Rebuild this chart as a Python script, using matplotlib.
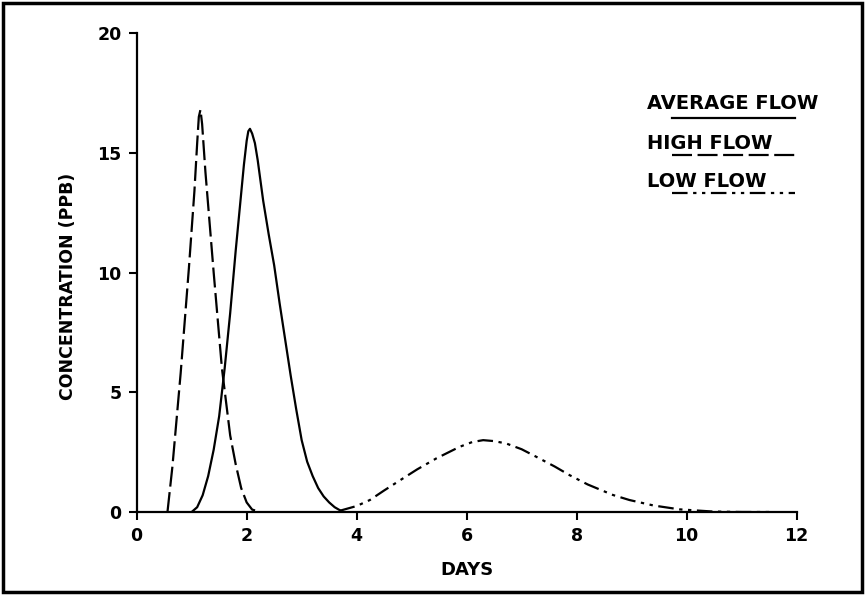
import matplotlib
matplotlib.use('Agg')
import matplotlib.pyplot as plt
from matplotlib.lines import Line2D
from matplotlib.patches import Rectangle

plt.rcParams['font.family'] = ['DejaVu Sans']
plt.rcParams['font.weight'] = 'bold'

# Values
avg_days = [1.0, 1.1, 1.2, 1.3, 1.4, 1.5, 1.6, 1.7, 1.8, 1.9, 1.95, 2.0, 2.03, 2.06, 2.1, 2.15,
            2.2, 2.3, 2.4, 2.5, 2.6, 2.7, 2.8, 2.9, 3.0, 3.1, 3.2, 3.3, 3.4, 3.5, 3.6, 3.75]
avg_conc = [0.0, 0.2, 0.7, 1.5, 2.6, 4.0, 6.0, 8.3, 10.9, 13.3, 14.5, 15.5, 15.9, 16.0, 15.8, 15.4,
            14.7, 13.0, 11.6, 10.3, 8.7, 7.2, 5.7, 4.3, 3.0, 2.1, 1.5, 1.0, 0.65, 0.4, 0.2, 0.0]

high_days = [0.56, 0.65, 0.8, 0.95, 1.05, 1.1, 1.13, 1.16, 1.19, 1.25, 1.4, 1.55, 1.7, 1.8,
             1.9, 2.0, 2.1, 2.25]
high_conc = [0.0, 1.9, 5.8, 10.2, 13.4, 15.4, 16.5, 16.8, 16.2, 14.2, 10.0, 6.0, 3.2, 2.0,
             1.0, 0.4, 0.1, 0.0]

low_days = [3.69, 4.0, 4.24, 4.5, 4.84, 5.1, 5.45, 5.87, 6.1, 6.3, 6.5, 6.72, 7.0, 7.27,
            7.6, 7.87, 8.2, 8.66, 8.96, 9.4, 9.87, 10.47, 11.0, 11.5]
low_conc = [0.05, 0.25, 0.5, 0.9, 1.4, 1.78, 2.24, 2.72, 2.92, 3.0, 2.96, 2.86, 2.62, 2.3,
            1.9, 1.54, 1.15, 0.71, 0.5, 0.27, 0.11, 0.02, 0.0, 0.0]

x_ticks = [0, 2, 4, 6, 8, 10, 12]
y_ticks = [0, 5, 10, 15, 20]

series_labels = ['AVERAGE FLOW', 'HIGH FLOW', 'LOW FLOW']
dash_high = (0, (9, 2.5))
dash_low = (0, (7, 2.5, 1.5, 2.5, 1.5, 2.5))
styles = ['-', dash_high, dash_low]

fig, ax = plt.subplots(figsize=(8.65, 5.95), dpi=100)
plt.subplots_adjust(left=0.158, right=0.921, bottom=0.1395, top=0.9445)

lw = 1.6
ax.plot(avg_days, avg_conc, color='black', lw=lw, linestyle=styles[0])
ax.plot(high_days, high_conc, color='black', lw=lw, linestyle=styles[1])
ax.plot(low_days, low_conc, color='black', lw=lw, linestyle=styles[2])

ax.set_xlim(0, 12)
ax.set_ylim(0, 20)
ax.set_xticks(x_ticks)
ax.set_yticks(y_ticks)
ax.tick_params(direction='out', length=6, width=1.5, labelsize=12.5, pad=5)
for lab in ax.get_xticklabels() + ax.get_yticklabels():
    lab.set_fontweight('bold')

for side in ['top', 'right']:
    ax.spines[side].set_visible(False)
for side in ['left', 'bottom']:
    ax.spines[side].set_linewidth(1.6)

ax.set_xlabel('DAYS', fontsize=13, fontweight='bold', labelpad=11)
ax.set_ylabel('CONCENTRATION (PPB)', fontsize=12.5, fontweight='bold')
ax.yaxis.set_label_coords(-0.09, 0.472)

# Hand-made legend: text with the line sample underneath
text_y = [0.852, 0.770, 0.689]
line_y = [0.823, 0.745, 0.666]
for label, style, ty, ly in zip(series_labels, styles, text_y, line_y):
    ax.text(0.773, ty, label, transform=ax.transAxes, fontsize=14, fontweight='bold',
            va='center', ha='left')
    ax.add_line(Line2D([0.811, 0.997], [ly, ly], transform=ax.transAxes, color='black',
                       lw=lw, linestyle=style, clip_on=False))

# Frame around the whole figure
fig.add_artist(Rectangle((0.004, 0.005), 0.992, 0.99, transform=fig.transFigure,
                         fill=False, edgecolor='black', lw=2.5))

fig.savefig('out.png', dpi=100)
